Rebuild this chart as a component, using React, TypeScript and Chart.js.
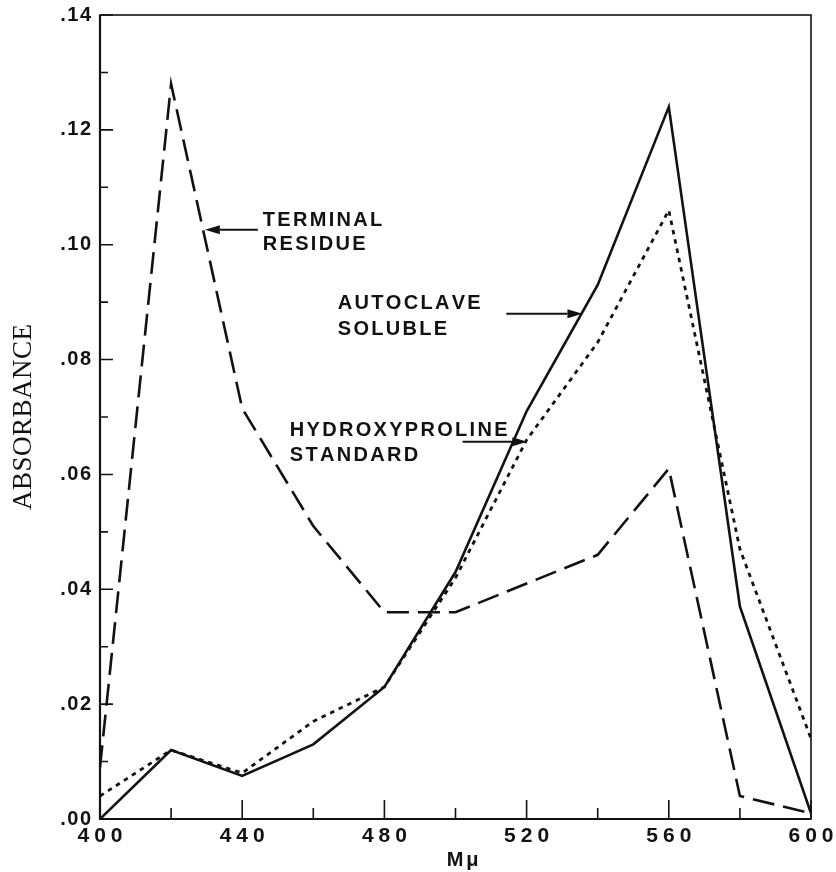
import React, { useEffect, useRef } from "react";
import { Chart, registerables } from "chart.js";

Chart.register(...registerables);

// ---- data ----
const wavelengths = [400, 420, 440, 460, 480, 500, 520, 540, 560, 580, 600];
const autoclaveSoluble = [0.0, 0.012, 0.0075, 0.013, 0.023, 0.043, 0.071, 0.093, 0.124, 0.037, 0.001];
const terminalResidue = [0.009, 0.128, 0.0715, 0.051, 0.036, 0.036, 0.041, 0.046, 0.061, 0.004, 0.001];
const hydroxyprolineStandard = [0.004, 0.012, 0.008, 0.017, 0.023, 0.042, 0.066, 0.083, 0.106, 0.047, 0.014];

const xMajorTicks = [400, 440, 480, 520, 560, 600];
const xTickLabels = ["400", "440", "480", "520", "560", "600"];
const xMinorTicks = [420, 460, 500, 540, 580];
const yMajorTicks = [0, 0.02, 0.04, 0.06, 0.08, 0.1, 0.12, 0.14];
const yTickLabels = [".00", ".02", ".04", ".06", ".08", ".10", ".12", ".14"];
const yMinorTicks = [0.01, 0.03, 0.05, 0.07, 0.09, 0.11, 0.13];

const xTitle = "Mμ";
const yTitle = "ABSORBANCE";

const labelTexts = [
  ["TERMINAL", "RESIDUE"],
  ["AUTOCLAVE", "SOLUBLE"],
  ["HYDROXYPROLINE", "STANDARD"],
];
// label anchor (data coords): left x, centre y of each line; arrow from -> to
const labelAnchors = [
  { x: 445.8, ys: [0.1042, 0.1001], from: [444.4, 0.1026], to: [429.5, 0.1026] },
  { x: 466.9, ys: [0.0898, 0.0853], from: [514.3, 0.088], to: [535.7, 0.088] },
  { x: 453.4, ys: [0.0677, 0.0633], from: [502.0, 0.0657], to: [520.2, 0.0657] },
];

const INK = "#121212";
const SANS = '"Liberation Sans", Arial, sans-serif';

function drawSpaced(
  ctx: CanvasRenderingContext2D,
  text: string,
  x: number,
  y: number,
  spacing: number,
  align: "left" | "center" | "right"
) {
  const chars = Array.from(text);
  const widths = chars.map((c) => ctx.measureText(c).width);
  const total = widths.reduce((a, b) => a + b, 0) + spacing * (chars.length - 1);
  let cx = align === "left" ? x : align === "center" ? x - total / 2 : x - total;
  ctx.textAlign = "left";
  chars.forEach((c, i) => {
    ctx.fillText(c, cx, y);
    cx += widths[i] + spacing;
  });
}

function arrow(ctx: CanvasRenderingContext2D, x1: number, y1: number, x2: number, y2: number) {
  const ang = Math.atan2(y2 - y1, x2 - x1);
  const len = 15;
  const half = 4.5;
  const bx = x2 - len * Math.cos(ang);
  const by = y2 - len * Math.sin(ang);
  ctx.lineWidth = 2;
  ctx.beginPath();
  ctx.moveTo(x1, y1);
  ctx.lineTo(bx, by);
  ctx.stroke();
  ctx.beginPath();
  ctx.moveTo(x2, y2);
  ctx.lineTo(bx + half * Math.sin(ang), by - half * Math.cos(ang));
  ctx.lineTo(bx - half * Math.sin(ang), by + half * Math.cos(ang));
  ctx.closePath();
  ctx.fill();
}

const decorPlugin = {
  id: "decor",
  afterDraw(chart: any) {
    const { ctx, chartArea: a } = chart;
    const xs = chart.scales.x;
    const ys = chart.scales.y;
    ctx.save();
    ctx.strokeStyle = INK;
    ctx.fillStyle = INK;
    ctx.lineCap = "butt";

    // frame
    ctx.lineWidth = 1.6;
    ctx.strokeRect(a.left, a.top, a.right - a.left, a.bottom - a.top);
    ctx.lineWidth = 2.2;
    ctx.beginPath();
    ctx.moveTo(a.left, a.top);
    ctx.lineTo(a.left, a.bottom);
    ctx.lineTo(a.right, a.bottom);
    ctx.stroke();

    // inward ticks
    ctx.lineWidth = 1.6;
    ctx.beginPath();
    xMajorTicks.forEach((v) => {
      const px = xs.getPixelForValue(v);
      ctx.moveTo(px, a.bottom);
      ctx.lineTo(px, a.bottom - 19);
    });
    xMinorTicks.forEach((v) => {
      const px = xs.getPixelForValue(v);
      ctx.moveTo(px, a.bottom);
      ctx.lineTo(px, a.bottom - 11);
    });
    yMajorTicks.forEach((v) => {
      const py = ys.getPixelForValue(v);
      ctx.moveTo(a.left, py);
      ctx.lineTo(a.left + 13, py);
    });
    yMinorTicks.forEach((v) => {
      const py = ys.getPixelForValue(v);
      ctx.moveTo(a.left, py);
      ctx.lineTo(a.left + 8, py);
    });
    ctx.stroke();

    // tick labels
    ctx.textBaseline = "middle";
    ctx.font = `bold 21px ${SANS}`;
    xMajorTicks.forEach((v, i) => {
      drawSpaced(ctx, xTickLabels[i], xs.getPixelForValue(v), a.bottom + 17, 5, "center");
    });
    ctx.font = `bold 20px ${SANS}`;
    yMajorTicks.forEach((v, i) => {
      drawSpaced(ctx, yTickLabels[i], a.left - 9, ys.getPixelForValue(v), 1.5, "right");
    });

    // axis titles
    ctx.font = `bold 20px ${SANS}`;
    drawSpaced(ctx, xTitle, xs.getPixelForValue(502), a.bottom + 41, 3, "center");
    ctx.save();
    ctx.translate(24, (a.top + a.bottom) / 2);
    ctx.rotate(-Math.PI / 2);
    ctx.font = `27px "Liberation Serif", "Times New Roman", serif`;
    drawSpaced(ctx, yTitle, 0, 0, 0.5, "center");
    ctx.restore();

    // annotations
    labelAnchors.forEach((an, i) => {
      ctx.font = `bold 20px ${SANS}`;
      ctx.textBaseline = "middle";
      labelTexts[i].forEach((t, j) => {
        drawSpaced(ctx, t, xs.getPixelForValue(an.x), ys.getPixelForValue(an.ys[j]), 2.3, "left");
      });
      arrow(
        ctx,
        xs.getPixelForValue(an.from[0]),
        ys.getPixelForValue(an.from[1]),
        xs.getPixelForValue(an.to[0]),
        ys.getPixelForValue(an.to[1])
      );
    });
    ctx.restore();
  },
};

export default function App() {
  const ref = useRef<HTMLCanvasElement | null>(null);
  useEffect(() => {
    if (!ref.current) return;
    const mk = (vals: number[]) => wavelengths.map((w, i) => ({ x: w, y: vals[i] }));
    const chart = new Chart(ref.current, {
      type: "line",
      data: {
        datasets: [
          {
            label: "Autoclave soluble",
            data: mk(autoclaveSoluble),
            borderColor: INK,
            borderWidth: 2.6,
            pointRadius: 0,
            tension: 0,
            fill: false,
          },
          {
            label: "Terminal residue",
            data: mk(terminalResidue),
            borderColor: INK,
            borderWidth: 2.6,
            borderDash: [22, 9],
            pointRadius: 0,
            tension: 0,
            fill: false,
          },
          {
            label: "Hydroxyproline standard",
            data: mk(hydroxyprolineStandard),
            borderColor: INK,
            borderWidth: 2.8,
            borderDash: [4.5, 5],
            pointRadius: 0,
            tension: 0,
            fill: false,
          },
        ],
      },
      options: {
        animation: false,
        responsive: false,
        devicePixelRatio: 1,
        layout: { padding: { top: 15, right: 25, left: 0, bottom: 0 } },
        plugins: { legend: { display: false }, tooltip: { enabled: false } },
        scales: {
          x: {
            type: "linear",
            min: 400,
            max: 600,
            ticks: { display: false },
            grid: { display: false },
            border: { display: false },
            afterFit: (s: any) => {
              s.height = 53;
            },
          },
          y: {
            type: "linear",
            min: 0,
            max: 0.14,
            ticks: { display: false },
            grid: { display: false },
            border: { display: false },
            afterFit: (s: any) => {
              s.width = 100;
            },
          },
        },
      },
      plugins: [decorPlugin],
    });
    return () => chart.destroy();
  }, []);
  return (
    <div style={{ position: "absolute", left: 0, top: 0, width: 836, height: 872, background: "#fff" }}>
      <canvas ref={ref} width={836} height={872} style={{ display: "block" }} />
    </div>
  );
}
